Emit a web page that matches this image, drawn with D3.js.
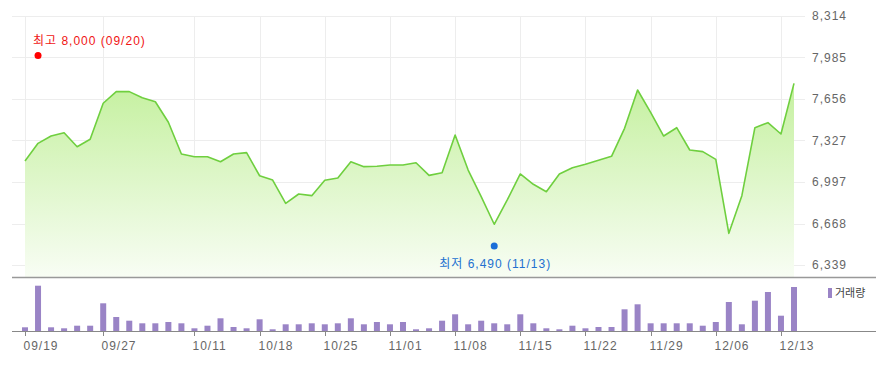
<!DOCTYPE html>
<html>
  <head>
    <meta charset="utf-8">
    <title>주가 차트</title>
    <script src="https://d3js.org/d3.v7.min.js"></script>
    <style>
      body { margin: 0; background: #fff; }
      svg { display: block; font-family: "Liberation Sans", "Noto Sans CJK KR", sans-serif; }
      .grid line { stroke: #ededed; stroke-width: 1; }
      .ylab { font-size: 12px; fill: #666; letter-spacing: 1px; }
      .xlab { font-size: 12px; fill: #666; letter-spacing: 1px; }
      .mark { font-size: 12px; letter-spacing: 1px; }
    </style>
  </head>
  <body>
    <svg id="chart" width="876" height="374"></svg>
    <script>
      // closing prices, one per trading day (09/19 .. 12/14)
      const prices = [
        7164, 7304, 7362, 7388, 7277, 7336, 7622, 7714, 7714, 7666,
        7634, 7471, 7219, 7198, 7198, 7158, 7219, 7230, 7047, 7013,
        6828, 6902, 6889, 7011, 7029, 7158, 7119, 7122, 7132, 7132,
        7150, 7050, 7071, 7370, 7092, 6881, 6662, 6855, 7061, 6979,
        6920, 7061, 7111, 7138, 7169, 7201, 7423, 7727, 7550, 7362,
        7428, 7251, 7238, 7177, 6590, 6889, 7428, 7468, 7378, 7780
      ];
      // trading volume (thousand shares)
      const volumes = [
        74, 906, 74, 54, 106, 106, 554, 280, 206, 154,
        154, 180, 154, 54, 106, 254, 80, 54, 234, 34,
        134, 134, 154, 134, 154, 254, 134, 180, 134, 180,
        34, 54, 206, 334, 134, 206, 154, 134, 334, 154,
        54, 34, 106, 54, 80, 80, 434, 534, 154, 154,
        154, 154, 106, 180, 580, 134, 606, 780, 306, 880
      ];
      // date ticks: trading-day index and label
      const tickDays = [0, 6, 13, 18, 23, 28, 33, 38, 43, 48, 53, 58];
      const tickLabels = ["09/19", "09/27", "10/11", "10/18", "10/25", "11/01",
                          "11/08", "11/15", "11/22", "11/29", "12/06", "12/13"];
      const priceTicks = [8314, 7985, 7656, 7327, 6997, 6668, 6339];
      // high / low markers
      const high = { day: 1, value: 8000, label: "최고 8,000 (09/20)" };
      const low = { day: 36, value: 6490, label: "최저 6,490 (11/13)" };

      const svg = d3.select("#chart");
      const plotLeft = 12, plotRight = 805, plotTop = 16, plotBottom = 277;
      const volBase = 331;

      const x = d3.scaleLinear().domain([0, prices.length - 1]).range([25, 794]);
      const y = d3.scaleLinear().domain([6339, 8314]).range([265, 16]);
      const yVol = d3.scaleLinear().domain([0, d3.max(volumes)]).range([volBase, 285.7]);

      // gradient for the area
      const grad = svg.append("defs").append("linearGradient")
        .attr("id", "areaGrad")
        .attr("gradientUnits", "userSpaceOnUse")
        .attr("x1", 0).attr("x2", 0)
        .attr("y1", 80).attr("y2", plotBottom);
      grad.append("stop").attr("offset", "0%").attr("stop-color", "rgb(196,240,158)");
      grad.append("stop").attr("offset", "100%").attr("stop-color", "rgb(248,253,244)");

      // grid
      const grid = svg.append("g").classed("grid", true);
      grid.selectAll(".h")
        .data(priceTicks)
        .enter().append("line")
          .attr("x1", plotLeft).attr("x2", plotRight)
          .attr("y1", function(d) { return Math.round(y(d)) + 0.5; })
          .attr("y2", function(d) { return Math.round(y(d)) + 0.5; });
      grid.selectAll(".v")
        .data(tickDays)
        .enter().append("line")
          .attr("x1", function(d) { return Math.round(x(d)) + 0.5; })
          .attr("x2", function(d) { return Math.round(x(d)) + 0.5; })
          .attr("y1", plotTop).attr("y2", plotBottom);

      // price area + line
      const area = d3.area()
        .x(function(d, i) { return x(i); })
        .y0(plotBottom)
        .y1(function(d) { return y(d); });
      const line = d3.line()
        .x(function(d, i) { return x(i); })
        .y(function(d) { return y(d); });
      svg.append("path")
        .datum(prices)
        .attr("d", area)
        .style("fill", "url(#areaGrad)");
      svg.append("path")
        .datum(prices)
        .attr("d", line)
        .style("fill", "none")
        .style("stroke", "#6fcf3f")
        .style("stroke-width", 1.6)
        .style("stroke-linejoin", "round");

      // right price labels
      svg.selectAll(".ylab")
        .data(priceTicks)
        .enter().append("text")
          .classed("ylab", true)
          .attr("x", 812)
          .attr("y", function(d) { return y(d); })
          .attr("dy", "0.35em")
          .text(d3.format(","));

      // panel separators
      svg.append("line")
        .attr("x1", plotLeft).attr("x2", 876)
        .attr("y1", plotBottom + 0.5).attr("y2", plotBottom + 0.5)
        .style("stroke", "#999").style("stroke-width", 1.5);
      svg.append("line")
        .attr("x1", plotLeft).attr("x2", 876)
        .attr("y1", volBase + 0.5).attr("y2", volBase + 0.5)
        .style("stroke", "#888").style("stroke-width", 1.2);

      // high / low markers
      svg.append("circle")
        .attr("cx", x(high.day)).attr("cy", y(high.value))
        .attr("r", 3.5).style("fill", "#f00");
      svg.append("text")
        .classed("mark", true)
        .attr("x", 33).attr("y", y(high.value) - 11)
        .style("fill", "#f01414")
        .text(high.label);
      svg.append("circle")
        .attr("cx", x(low.day)).attr("cy", y(low.value))
        .attr("r", 3.5).style("fill", "#1a6ed8");
      svg.append("text")
        .classed("mark", true)
        .attr("x", x(low.day) + 1).attr("y", y(low.value) + 22)
        .attr("text-anchor", "middle")
        .style("fill", "#2270d0")
        .text(low.label);

      // volume bars
      svg.selectAll(".vol")
        .data(volumes)
        .enter().append("rect")
          .classed("vol", true)
          .attr("x", function(d, i) { return x(i) - 3; })
          .attr("width", 6)
          .attr("y", function(d) { return yVol(d); })
          .attr("height", function(d) { return volBase - yVol(d); })
          .style("fill", "#9a84c6");

      // date ticks
      const ticks = svg.selectAll(".xtick")
        .data(tickDays)
        .enter().append("g")
          .attr("transform", function(d) { return "translate(" + (Math.round(x(d)) + 0.5) + "," + volBase + ")"; });
      ticks.append("line")
        .attr("y1", 0).attr("y2", 5)
        .style("stroke", "#888");
      ticks.append("text")
        .classed("xlab", true)
        .attr("x", -2).attr("y", 19)
        .text(function(d, i) { return tickLabels[i]; });

      // legend
      svg.append("rect")
        .attr("x", 828).attr("y", 288).attr("width", 4).attr("height", 10)
        .style("fill", "#9a84c6");
      svg.append("text")
        .attr("x", 835).attr("y", 297)
        .style("font-size", "11px").style("fill", "#444")
        .text("거래량");
    </script>
  </body>
</html>
